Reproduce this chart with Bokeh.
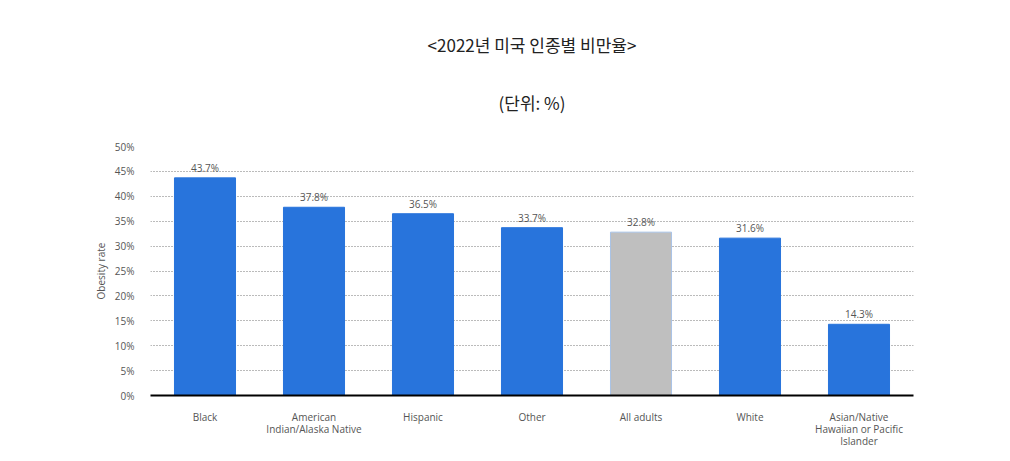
from bokeh.plotting import figure
from bokeh.models import ColumnDataSource, Title, FixedTicker, Range1d, CustomJSTickFormatter
from bokeh.embed import file_html
from bokeh.resources import INLINE
from bokeh.core.properties import value

categories = ["Black", "American\nIndian/Alaska Native", "Hispanic", "Other", "All adults", "White",
              "Asian/Native\nHawaiian or Pacific\nIslander"]
rates = [43.7, 37.8, 36.5, 33.7, 32.8, 31.6, 14.3]
labels = ["43.7%", "37.8%", "36.5%", "33.7%", "32.8%", "31.6%", "14.3%"]
colors = ["#2874dc", "#2874dc", "#2874dc", "#2874dc", "#bfbfbf", "#2874dc", "#2874dc"]
lines = ["#2874dc", "#2874dc", "#2874dc", "#2874dc", "#a9c3e6", "#2874dc", "#2874dc"]
yticks = [0, 5, 10, 15, 20, 25, 30, 35, 40, 45, 50]

title = "<2022년 미국 인종별 비만율>"
subtitle = "(단위: %)"

src = ColumnDataSource(dict(cat=categories, rate=rates, lab=labels, color=colors, line=lines))

p = figure(x_range=categories, y_range=Range1d(0, 50), width=994, height=451,
           output_backend="svg", toolbar_location=None,
           min_border_left=150, min_border_right=81, min_border_top=146, min_border_bottom=56)
p.outline_line_color = None
p.background_fill_color = "white"
p.border_fill_color = "white"

p.vbar(x="cat", top="rate", width=0.56, source=src, fill_color="color", line_color="line", line_width=1)
p.text(x="cat", y="rate", text="lab", source=src, text_align="center", text_baseline="bottom",
       y_offset=-3, text_font=value("Open Sans"), text_font_size="10px", text_color="#555555")

p.xgrid.grid_line_color = None
p.ygrid.grid_line_color = "#777777"
p.ygrid.grid_line_dash = "1 2"
p.ygrid.grid_line_width = 1
p.ygrid.ticker = FixedTicker(ticks=yticks)

p.yaxis.ticker = FixedTicker(ticks=yticks)
p.yaxis.formatter = CustomJSTickFormatter(code="return tick + '%';")
p.yaxis.axis_line_color = None
p.yaxis.major_tick_line_color = None
p.yaxis.minor_tick_line_color = None
p.yaxis.major_label_text_font = "Open Sans"
p.yaxis.major_label_text_font_size = "10px"
p.yaxis.major_label_text_color = "#555555"
p.yaxis.major_label_standoff = 10
p.yaxis.axis_label = "Obesity rate"
p.yaxis.axis_label_text_font = "Open Sans"
p.yaxis.axis_label_text_font_style = "normal"
p.yaxis.axis_label_text_font_size = "10px"
p.yaxis.axis_label_text_color = "#555555"
p.yaxis.axis_label_standoff = 4

p.xaxis.axis_line_color = "black"
p.xaxis.axis_line_width = 2
p.xaxis.major_tick_line_color = None
p.xaxis.minor_tick_line_color = None
p.xaxis.major_label_text_font = "Open Sans"
p.xaxis.major_label_text_font_size = "10px"
p.xaxis.major_label_text_color = "#555555"
p.xaxis.major_label_text_line_height = 0.88
p.xaxis.major_label_standoff = 8
p.x_range.range_padding = 0.0

p.add_layout(Title(text=subtitle, align="center", text_font="Noto Sans CJK KR",
                   text_font_size="17px", text_font_style="normal", text_color="#222222",
                   standoff=63), "above")
p.add_layout(Title(text=title, align="center", text_font="Noto Sans CJK KR",
                   text_font_size="17px", text_font_style="normal", text_color="#222222",
                   standoff=0), "above")

open("out.html", "w").write(file_html(p, INLINE))
